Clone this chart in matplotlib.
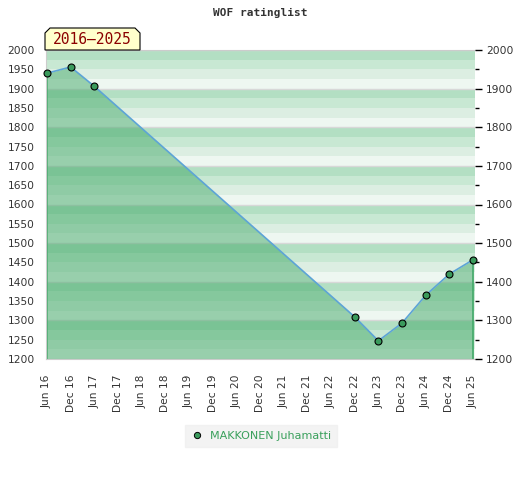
import matplotlib
matplotlib.use("Agg")
import matplotlib.pyplot as plt
from matplotlib.patches import Polygon
from matplotlib.lines import Line2D

# ---- data ----
tick_labels = ["Jun 16", "Dec 16", "Jun 17", "Dec 17", "Jun 18", "Dec 18", "Jun 19",
               "Dec 19", "Jun 20", "Dec 20", "Jun 21", "Dec 21", "Jun 22", "Dec 22",
               "Jun 23", "Dec 23", "Jun 24", "Dec 24", "Jun 25"]
point_labels = ["Jun 16", "Dec 16", "Jun 17", "Dec 22", "Jun 23", "Dec 23", "Jun 24", "Dec 24", "Jun 25"]
ratings = [1940, 1956, 1906, 1309, 1247, 1293, 1365, 1420, 1457]
player = "MAKKONEN Juhamatti"
period = "2016–2025"
title = "WOF ratinglist"

months = [6 * tick_labels.index(l) for l in point_labels]
tick_pos = [6 * i for i in range(len(tick_labels))]

band_colors = ["#b3dfc3", "#c8e8d3", "#dceee2", "#eef7f1"]
fill_color = "#43a969"

fig = plt.figure(figsize=(5.2, 4.8), dpi=100)
W, H = 520, 480
ax = fig.add_axes([46 / W, 1 - 359 / H, (475 - 46) / W, (359 - 50) / H])
ymin, ymax = 1200, 2000
ax.set_ylim(ymin, ymax)
ax.set_xlim(-0.25, 108.5)

# background bands
for k in range((ymax - ymin) // 25):
    hi = ymax - 25 * k
    ax.axhspan(hi - 25, hi, color=band_colors[k % 4], lw=0, zorder=0)
for v in range(ymin, ymax + 1, 100):
    ax.axhline(v, color="#d8d8d8", lw=1, zorder=0.5)

ax.fill_between(months, ratings, ymin, color=fill_color, alpha=0.5, lw=0, zorder=1)
ax.plot([months[0], months[0]], [ymin, ratings[0]], color=fill_color, lw=1.2, zorder=2)
ax.plot([months[-1], months[-1]], [ymin, ratings[-1]], color=fill_color, lw=1.2, zorder=2)
ax.plot(months, ratings, color="#5da4d6", lw=1.2, zorder=3)
ax.plot(months, ratings, ls="none", marker="o", ms=5, mfc="#3a9a5c", mec="black",
        mew=0.8, zorder=4, clip_on=False)

ax.set_xticks(tick_pos)
ax.set_xticklabels(tick_labels, rotation=90, fontsize=7.7, color="#333333")
ax.tick_params(axis="x", length=0, pad=11)
ax.set_yticks(range(ymin, ymax + 1, 50))
ax.tick_params(axis="y", length=0, pad=8, labelsize=7.7, labelcolor="#333333")
for s in ["left", "bottom", "top"]:
    ax.spines[s].set_color("#cccccc")
ax.spines["right"].set_visible(False)

ax2 = ax.twinx()
ax2.set_ylim(ymin, ymax)
ax2.set_yticks(range(ymin, ymax + 1, 100))
ax2.set_yticks(range(ymin + 50, ymax, 100), minor=True)
ax2.tick_params(axis="y", which="major", length=5, width=1, labelsize=7.7,
                labelcolor="#333333", color="black", pad=3)
ax2.tick_params(axis="y", which="minor", length=3, width=1, color="black")
for s in ax2.spines.values():
    s.set_visible(False)

# title
fig.text(260 / W, 1 - 13 / H, title, ha="center", va="center", fontsize=8,
         family="DejaVu Sans Mono", fontweight="bold", color="#333333")

# period label box with chamfered top corners
x0, x1, y0, y1, c = 45, 140, 50, 28, 5
pts = [(x0, y0), (x0, y1 + c), (x0 + c, y1), (x1 - c, y1), (x1, y1 + c), (x1, y0)]
poly = Polygon([(px / W, 1 - py / H) for px, py in pts], closed=True,
               transform=fig.transFigure, facecolor="#ffffcc", edgecolor="black",
               lw=0.8, zorder=5)
fig.patches.append(poly)
fig.text((x0 + x1) / 2 / W, 1 - 40 / H, period, ha="center", va="center",
         fontsize=10.5, family="DejaVu Sans Mono", color="#8b0000", zorder=6)

# legend
handle = Line2D([], [], ls="none", marker="o", ms=4.5, mfc="#3a9a5c", mec="black", mew=0.7)
leg = fig.legend([handle], [player], loc="center", bbox_to_anchor=(261 / W, 1 - 436 / H),
                 frameon=True, fontsize=8, handletextpad=0.7, borderpad=0.55,
                 handlelength=1.0, fancybox=False)
leg.get_frame().set_facecolor("#f0f0f0")
leg.get_frame().set_edgecolor("#f0f0f0")
for t in leg.get_texts():
    t.set_color("#3aa05c")

fig.savefig("out.png", dpi=100)
